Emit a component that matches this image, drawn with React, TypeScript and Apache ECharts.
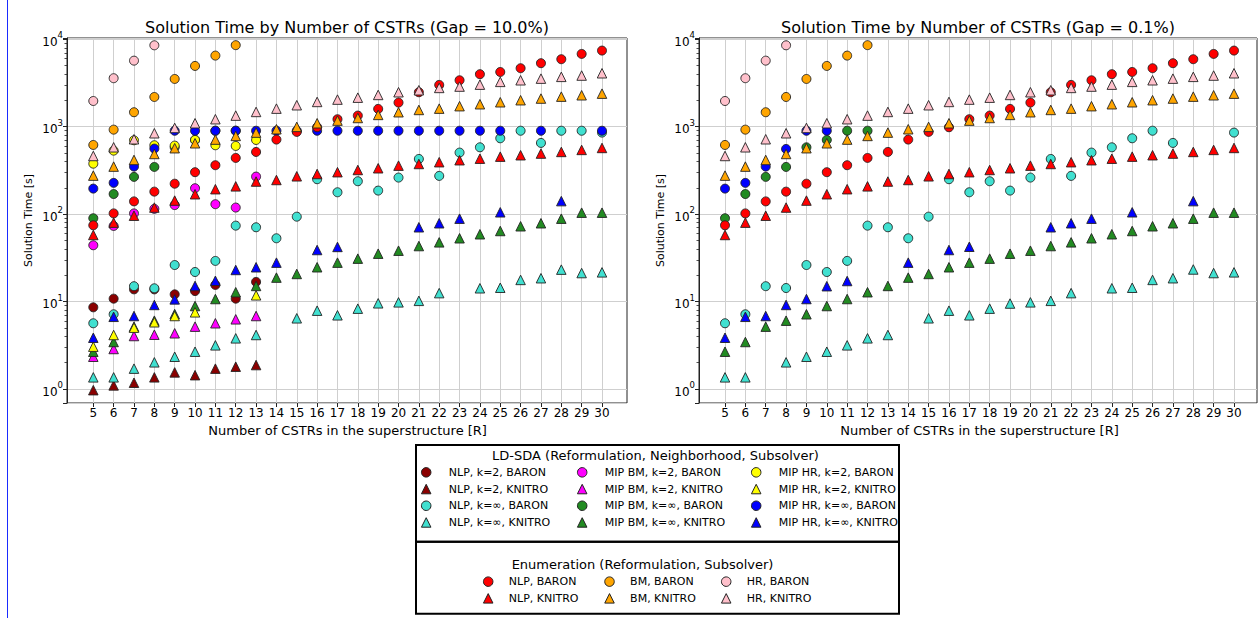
import React, { useEffect, useRef } from 'react';
import * as echarts from 'echarts';

const FONT = 'DejaVu Sans, Verdana, sans-serif';

// Number of CSTRs (x positions / tick labels)
const nCSTR = [5, 6, 7, 8, 9, 10, 11, 12, 13, 14, 15, 16, 17, 18, 19, 20, 21, 22, 23, 24, 25, 26, 27, 28, 29, 30];

const N = null;
// ---------- LD-SDA, Gap = 10.0% (left) ----------
const L_nlpK2Baron = [8.6, 10.8, 13.8, 13.8, 12.1, 13.2, 15.5, 10.8, 16.8, N, N, N, N, N, N, N, N, N, N, N, N, N, N, N, N, N];
const L_nlpK2Knitro = [0.97, 1.1, 1.18, 1.36, 1.55, 1.44, 1.71, 1.8, 1.88, N, N, N, N, N, N, N, N, N, N, N, N, N, N, N, N, N];
const L_nlpKinfBaron = [5.65, 7.16, 15.0, 14.2, 26.2, 21.8, 29.2, 73.9, 70.8, 53, 93.6, 251, 178, 238, 186, 262, 428, 274, 506, 582, 738, 900, 653, 900, 900, 857];
const L_nlpKinfKnitro = [1.36, 1.36, 1.71, 2.02, 2.34, 2.67, 3.16, 3.8, 4.15, N, 6.44, 7.87, 6.97, 8.3, 9.56, 9.8, 10.2, 12.5, N, 14.2, 14.4, 17.7, 18.5, 23.2, 21.2, 21.6];
const L_bmK2Baron = [44.1, 73.3, 102, 115, 127, 198, 130, 119, 269, N, N, N, N, N, N, N, N, N, N, N, N, N, N, N, N, N];
const L_bmK2Knitro = [2.34, 2.87, 4.04, 4.18, 4.34, 5.17, 5.65, 6.27, 6.84, N, N, N, N, N, N, N, N, N, N, N, N, N, N, N, N, N];
const L_bmKinfBaron = [89.8, 170, 267, 347, 582, 706, 900, 900, N, N, N, N, N, N, N, N, N, N, N, N, N, N, N, N, N, N];
const L_bmKinfKnitro = [2.67, 3.45, 5.17, 6.05, 7.2, 8.9, 10.7, 12.8, 15.1, 18.8, 20.7, 24.7, 27.9, 31, 35.3, 38.2, 43.2, 47.6, 53, 58.9, 64.2, 72.7, 78.7, 88.8, 104, 104];
const L_hrK2Baron = [378, 533, 700, 614, 608, 706, 614, 603, 706, N, N, N, N, N, N, N, N, N, N, N, N, N, N, N, N, N];
const L_hrK2Knitro = [3.05, 4.15, 5.03, 5.8, 6.84, 7.54, N, N, 11.8, N, N, N, N, N, N, N, N, N, N, N, N, N, N, N, N, N];
const L_hrKinfBaron = [196, 228, 350, 562, 900, 900, 900, 900, 900, 900, 900, 900, 900, 900, 900, 900, 900, 900, 900, 900, 900, N, 900, N, N, 900];
const L_hrKinfKnitro = [3.86, 6.7, 6.84, 9.15, 10.6, 15.1, 17.3, 23, 24.7, 27.9, N, 38.9, 42.2, N, N, N, 70.8, 78.7, 88.8, N, 105, N, N, 141, N, N];

// ---------- LD-SDA, Gap = 0.1% (right) ----------
const R_none = [N, N, N, N, N, N, N, N, N, N, N, N, N, N, N, N, N, N, N, N, N, N, N, N, N, N];
const R_nlpKinfBaron = [5.65, 7.16, 15.0, 14.3, 26.2, 21.8, 29.2, 73.9, 70.8, 53, 93.6, 251, 178, 238, 186, 262, 428, 274, 506, 582, 738, 900, 653, N, N, 857];
const R_nlpKinfKnitro = [1.36, 1.36, N, 2.02, 2.34, 2.67, 3.16, 3.8, 4.15, N, 6.44, 7.87, 6.97, 8.3, 9.5, 9.8, 10.2, 12.5, N, 14.2, 14.4, 17.7, 18.5, 23.3, 21.2, 21.6];
const R_bmKinfBaron = [89.8, 170, 267, 347, 582, 706, 900, 900, N, N, N, N, N, N, N, N, N, N, N, N, N, N, N, N, N, N];
const R_bmKinfKnitro = [2.67, 3.45, 5.17, 6.05, 7.16, 8.9, 10.7, 12.8, 15.1, 18.8, 20.7, 24.7, 27.9, 31, 35.3, 38.2, 43.2, 47.6, 53, 58.9, 64.2, 72.7, 78.7, 88.8, 104, 104];
const R_hrKinfBaron = [196, 228, 350, 557, 900, 900, N, N, N, N, N, N, N, N, N, N, N, N, N, N, N, N, N, N, N, N];
const R_hrKinfKnitro = [3.86, 6.7, 6.84, 9.15, 10.7, 15, 17.2, N, N, 27.9, N, 38.9, 42.4, N, N, N, 70.8, 78.7, 88.8, N, 105, N, N, 141, N, N];

// ---------- Enumeration (same in both panels) ----------
const E_nlpBaron = [74.6, 102, 140, 181, 223, 302, 363, 440, 515, 713, 873, 987, 1219, 1341, 1600, 1888, 2480, 3010, 3400, 3990, 4230, 4670, 5330, 5920, 6810, 7430];
const E_nlpKnitro = [57.8, 80, 96, 119, 143, 169, 193, 208, 236, 246, 271, 288, 302, 320, 335, 359, 375, 393, 414, 431, 455, 472, 493, 515, 543, 572];
const E_bmBaron = [619, 926, 1465, 2190, 3520, 4960, 6510, 8570, N, N, N, N, N, N, N, N, N, N, N, N, N, N, N, N, N, N];
const E_bmKnitro = [276, 350, 417, 488, 568, 647, 713, 785, 857, 936, 996, 1096, 1175, 1259, 1365, 1465, 1556, 1611, 1718, 1808, 1905, 2010, 2100, 2210, 2290, 2390];
const E_hrBaron = [1970, 3590, 5700, 8540, N, N, N, N, N, N, N, N, N, N, N, N, N, N, N, N, N, N, N, N, N, N];
const E_hrKnitro = [463, 582, 719, 842, 969, 1096, 1219, 1341, 1477, 1611, 1762, 1922, 2043, 2150, 2310, 2480, 2613, 2780, 2880, 3030, 3260, 3400, 3550, 3720, 3850, 4090];

// Series names (legend order)
const LD_NAMES = [
  'NLP, k=2, BARON', 'NLP, k=2, KNITRO', 'NLP, k=∞, BARON', 'NLP, k=∞, KNITRO',
  'MIP BM, k=2, BARON', 'MIP BM, k=2, KNITRO', 'MIP BM, k=∞, BARON', 'MIP BM, k=∞, KNITRO',
  'MIP HR, k=2, BARON', 'MIP HR, k=2, KNITRO', 'MIP HR, k=∞, BARON', 'MIP HR, k=∞, KNITRO',
];
const EN_NAMES = ['NLP, BARON', 'NLP, KNITRO', 'BM, BARON', 'BM, KNITRO', 'HR, BARON', 'HR, KNITRO'];

const LD_COLORS = ['#8b0000', '#8b0000', '#40e0d0', '#40e0d0', '#ff00ff', '#ff00ff', '#228b22', '#228b22', '#ffff00', '#ffff00', '#0000ff', '#0000ff'];
const EN_COLORS = ['#ff0000', '#ff0000', '#ffa500', '#ffa500', '#ffc0cb', '#ffc0cb'];

const LEFT_LD = [L_nlpK2Baron, L_nlpK2Knitro, L_nlpKinfBaron, L_nlpKinfKnitro, L_bmK2Baron, L_bmK2Knitro, L_bmKinfBaron, L_bmKinfKnitro, L_hrK2Baron, L_hrK2Knitro, L_hrKinfBaron, L_hrKinfKnitro];
const RIGHT_LD = [R_none, R_none, R_nlpKinfBaron, R_nlpKinfKnitro, R_none, R_none, R_bmKinfBaron, R_bmKinfKnitro, R_none, R_none, R_hrKinfBaron, R_hrKinfKnitro];
const ENUM = [E_nlpBaron, E_nlpKnitro, E_bmBaron, E_bmKnitro, E_hrBaron, E_hrKnitro];

const TITLES = ['Solution Time by Number of CSTRs (Gap = 10.0%)', 'Solution Time by Number of CSTRs (Gap = 0.1%)'];

// axis extents (log axis)
const Y_MIN = 0.692;
const Y_MAX = 10350;
// decades that carry minor ticks
const DEC_MIN = 1;
const DEC_MAX = 10000;

const toPairs = (vals: (number | null)[]) =>
  nCSTR.map((x, i) => (vals[i] == null ? null : [x, vals[i] as number])).filter((p) => p !== null);

const logLabel = (v: number) => {
  const e = Math.log10(v);
  const r = Math.round(e);
  if (Math.abs(e - r) > 1e-6) return '';
  return `{b|10}{s|${r}}`;
};

const GRID_COLOR = '#cfcfcf';
const SPINE = '#222';

function buildOption() {
  const panels = [
    { outerLeft: 67, outerW: 560, innerLeft: 93.3, innerW: 508.7 },
    { outerLeft: 699, outerW: 558, innerLeft: 725, innerW: 509 },
  ];
  const top = 38;
  const height = 365;
  // pixel rows of 10^4 and 10^0 (for the minor-tick helper axis)
  const decTop = 39.3;
  const decBottom = 389;
  const grid: any[] = [];
  const xAxis: any[] = [];
  const yAxis: any[] = [];
  panels.forEach((p, k) => {
    const gOuter = k * 2;
    const gInner = k * 2 + 1;
    grid.push({ left: p.outerLeft, top, width: p.outerW, height, show: true, borderColor: SPINE, borderWidth: 1, backgroundColor: 'transparent', containLabel: false });
    grid.push({ left: p.innerLeft, top, width: p.innerW, height, containLabel: false });
    xAxis.push({ gridIndex: gOuter, type: 'value', min: 0, max: 1, show: false });
    xAxis.push({
      gridIndex: gInner, type: 'value', min: 5, max: 30, interval: 1,
      axisLine: { show: false, onZero: false },
      axisTick: { show: true, length: 4, lineStyle: { color: SPINE, width: 1 } },
      axisLabel: { fontSize: 12, color: '#000', fontFamily: FONT, margin: 4 },
      splitLine: { show: true, lineStyle: { color: GRID_COLOR, width: 1 } },
      name: 'Number of CSTRs in the superstructure [R]', nameLocation: 'middle', nameGap: 20,
      nameTextStyle: { fontSize: 13, color: '#000', fontFamily: FONT },
    });
    yAxis.push({
      gridIndex: gOuter, type: 'log', logBase: 10, min: Y_MIN, max: Y_MAX,
      axisLine: { show: true, onZero: false, lineStyle: { color: SPINE, width: 1 } },
      axisTick: { show: true, length: 4, lineStyle: { color: SPINE, width: 1 } },
      axisLabel: {
        formatter: logLabel, margin: 4,
        rich: {
          b: { fontSize: 12, color: '#000', fontFamily: FONT, verticalAlign: 'bottom' },
          s: { fontSize: 8.5, color: '#000', fontFamily: FONT, verticalAlign: 'bottom', padding: [0, 0, 8, 0] },
        },
      },
      splitLine: { show: true, lineStyle: { color: GRID_COLOR, width: 1 } },
      name: 'Solution Time [s]', nameLocation: 'middle', nameGap: 33, nameRotate: 90,
      nameTextStyle: { fontSize: 11, color: '#000', fontFamily: FONT },
    });
    yAxis.push({ gridIndex: gInner, type: 'log', logBase: 10, min: Y_MIN, max: Y_MAX, show: false });
  });
  // helper grids: log minor ticks (2..9 x 10^n) along the left spine
  panels.forEach((p) => {
    const g = grid.length;
    grid.push({ left: p.outerLeft, top: decTop, width: p.outerW, height: decBottom - decTop, containLabel: false });
    xAxis.push({ gridIndex: g, type: 'value', min: 0, max: 1, show: false });
    yAxis.push({
      gridIndex: g, type: 'log', logBase: 10, min: DEC_MIN, max: DEC_MAX,
      axisLine: { show: false }, axisTick: { show: false }, axisLabel: { show: false }, splitLine: { show: false },
      minorTick: { show: true, splitNumber: 9, length: 2.5, lineStyle: { color: SPINE, width: 0.8 } },
      minorSplitLine: { show: false },
    });
  });

  const mk = (name: string, symbol: string, color: string, vals: (number | null)[], axis: number) => ({
    type: 'scatter', name, symbol, symbolSize: symbol === 'circle' ? 9 : 9.5,
    xAxisIndex: axis, yAxisIndex: axis,
    data: toPairs(vals),
    itemStyle: { color, borderColor: SPINE, borderWidth: 0.9, opacity: 1 },
    emphasis: { disabled: true },
  });

  const series: any[] = [];
  [LEFT_LD, RIGHT_LD].forEach((ld, k) => {
    const axis = k * 2 + 1;
    ld.forEach((vals, i) => series.push(mk(LD_NAMES[i], i % 2 === 0 ? 'circle' : 'triangle', LD_COLORS[i], vals, axis)));
    ENUM.forEach((vals, i) => series.push(mk(EN_NAMES[i], i % 2 === 0 ? 'circle' : 'triangle', EN_COLORS[i], vals, axis)));
  });

  const ICON = 9.5;
  const legendItem = (padLeft: number) => ({
    orient: 'vertical', padding: 0, itemGap: 0, itemWidth: ICON, itemHeight: ICON,
    textStyle: { fontSize: 11, fontFamily: FONT, color: '#000', lineHeight: 16.7, padding: [0, 0, 0, padLeft] },
    itemStyle: { borderColor: SPINE, borderWidth: 1 },
  });
  // icon centres: box 1 at 425.7 / 581.7 / 755.7 ; box 2 at 487.7 / 609 / 725.7
  const legend = [
    { ...legendItem(12.85), left: 425.7 - ICON / 2, top: 464, data: LD_NAMES.slice(0, 4) },
    { ...legendItem(12.85), left: 581.7 - ICON / 2, top: 464, data: LD_NAMES.slice(4, 8) },
    { ...legendItem(12.85), left: 755.7 - ICON / 2, top: 464, data: LD_NAMES.slice(8, 12) },
    { ...legendItem(10.85), left: 487.7 - ICON / 2, top: 573.3, data: EN_NAMES.slice(0, 2) },
    { ...legendItem(10.85), left: 609 - ICON / 2, top: 573.3, data: EN_NAMES.slice(2, 4) },
    { ...legendItem(10.85), left: 725.7 - ICON / 2, top: 573.3, data: EN_NAMES.slice(4, 6) },
  ];

  const graphic = [
    { type: 'line', shape: { x1: 7.5, y1: 0, x2: 7.5, y2: 618 }, style: { stroke: '#1a2bff', lineWidth: 1 } },
    { type: 'text', x: 347, y: 27, style: { text: TITLES[0], fontSize: 16, fontFamily: FONT, fill: '#000', align: 'center', verticalAlign: 'middle' } },
    { type: 'text', x: 978, y: 27, style: { text: TITLES[1], fontSize: 16, fontFamily: FONT, fill: '#000', align: 'center', verticalAlign: 'middle' } },
    { type: 'rect', shape: { x: 416, y: 445, width: 483, height: 96.7 }, style: { fill: 'none', stroke: '#000', lineWidth: 2 } },
    { type: 'rect', shape: { x: 416, y: 541.7, width: 483, height: 72 }, style: { fill: 'none', stroke: '#000', lineWidth: 2 } },
    { type: 'text', x: 655.5, y: 455, style: { text: 'LD-SDA (Reformulation, Neighborhood, Subsolver)', fontSize: 13, fontFamily: FONT, fill: '#000', align: 'center', verticalAlign: 'middle' } },
    { type: 'text', x: 642.5, y: 564, style: { text: 'Enumeration (Reformulation, Subsolver)', fontSize: 13, fontFamily: FONT, fill: '#000', align: 'center', verticalAlign: 'middle' } },
  ];

  return {
    animation: false,
    backgroundColor: '#ffffff',
    textStyle: { fontFamily: FONT },
    grid, xAxis, yAxis, series, legend, graphic,
  };
}

export default function App() {
  const ref = useRef<HTMLDivElement>(null);
  useEffect(() => {
    if (!ref.current) return;
    const chart = echarts.init(ref.current, undefined, { renderer: 'svg' });
    chart.setOption(buildOption() as any);
    return () => chart.dispose();
  }, []);
  return <div ref={ref} style={{ position: 'fixed', left: 0, top: 0, width: 1260, height: 618, background: '#fff' }} />;
}
